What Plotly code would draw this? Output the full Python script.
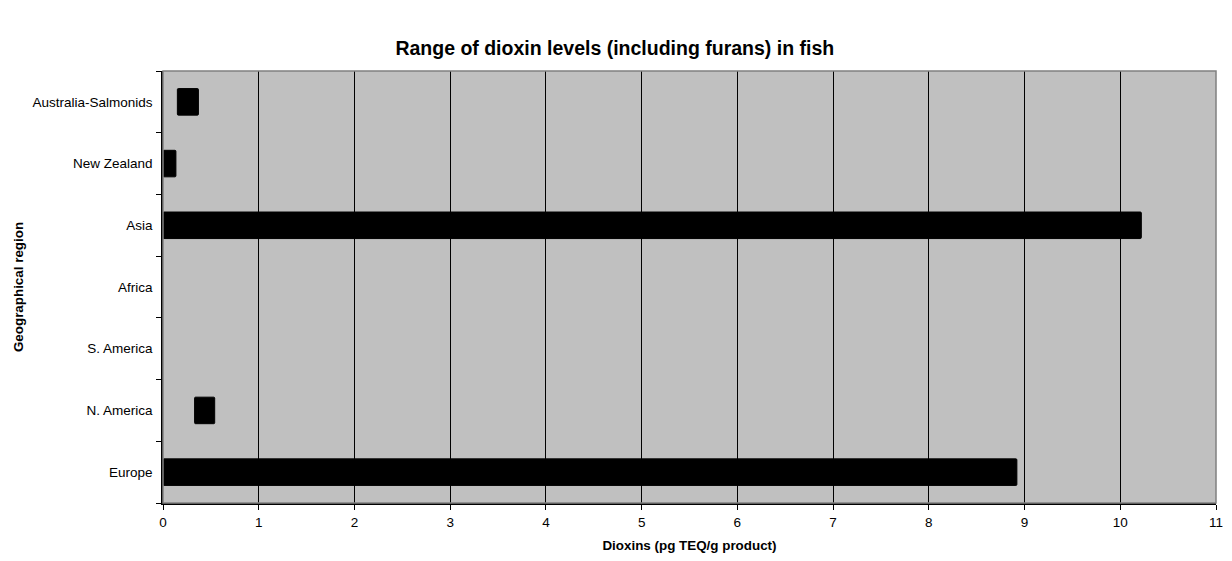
import plotly.graph_objects as go

regions = ["Europe", "N. America", "S. America", "Africa", "Asia", "New Zealand", "Australia-Salmonids"]
low_values = [0.0, 0.33, None, None, 0.0, 0.0, 0.15]
high_values = [8.92, 0.54, None, None, 10.22, 0.135, 0.37]
x_ticks = list(range(0, 12))

widths = [None if (h is None or l is None) else h - l for l, h in zip(low_values, high_values)]

fig = go.Figure()
fig.add_trace(go.Bar(
    y=regions, x=widths, base=low_values, orientation="h",
    marker=dict(color="black", line=dict(color="black", width=1), cornerradius=1),
    width=0.43, showlegend=False,
))

fig.update_layout(
    width=1216, height=545,
    margin=dict(l=155, r=8, t=63, b=50, autoexpand=False),
    paper_bgcolor="white", plot_bgcolor="#C0C0C0",
    font=dict(family="Liberation Sans, Arial, sans-serif", size=13.5, color="black"),
    title=dict(text="<b>Range of dioxin levels (including furans) in fish</b>",
               x=0.499, xanchor="center", y=0.9266, yanchor="middle",
               font=dict(size=19.5, color="black")),
    xaxis=dict(range=[0, 11], tickvals=x_ticks, ticktext=[str(v) for v in x_ticks],
               showgrid=True, gridcolor="black", gridwidth=1,
               showline=True, linecolor="black", linewidth=1.5,
               ticks="outside", ticklen=5, tickcolor="black",
               zeroline=False, ticklabelstandoff=1, automargin=False,
               title=dict(text="<b>Dioxins (pg TEQ/g product)</b>", font=dict(size=13.4), standoff=16)),
    yaxis=dict(type="category", categoryorder="array", categoryarray=regions,
               tickson="boundaries", ticks="outside", ticklen=5, tickcolor="black",
               showline=True, linecolor="black", linewidth=1.5, showgrid=False,
               range=[-0.5, 6.5], ticklabelstandoff=6, automargin=False,
               title=dict(text="<b>Geographical region</b>", font=dict(size=13.4), standoff=6)),
    bargap=0.57,
)
fig.add_shape(type="rect", xref="paper", yref="paper", x0=0, x1=1, y0=0, y1=1,
              line=dict(color="#808080", width=1.5), fillcolor="rgba(0,0,0,0)", layer="above")

fig.write_html("out.html")
